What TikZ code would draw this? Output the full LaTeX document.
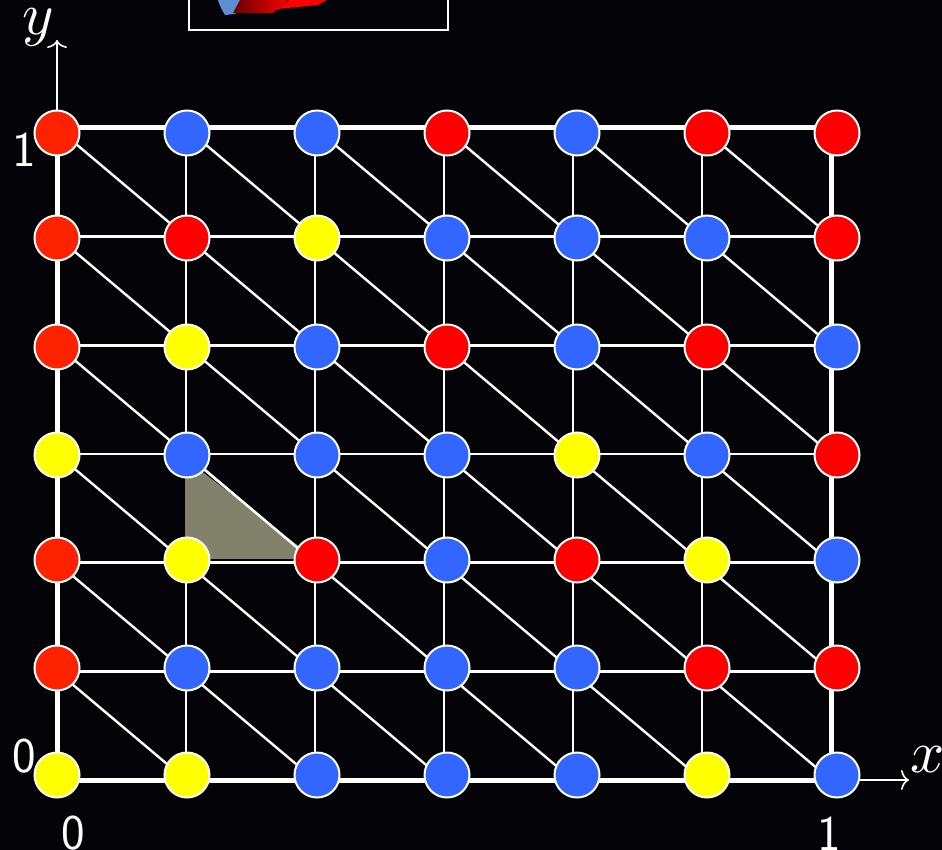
\documentclass[tikz,border=0pt]{standalone}
\usetikzlibrary{arrows.meta}
\definecolor{bg}{RGB}{3,3,8}
\definecolor{vorange}{RGB}{255,34,0}
\definecolor{vred}{RGB}{255,0,0}
\definecolor{vblue}{RGB}{51,102,255}
\definecolor{vyellow}{RGB}{255,255,0}
\definecolor{tri}{RGB}{130,130,108}
\definecolor{insetblue}{RGB}{92,142,212}
\definecolor{darkred}{RGB}{105,0,0}
\begin{document}
\begin{tikzpicture}[x=1pt,y=-1pt,
  vtx/.style={circle,draw=white,line width=2pt,minimum size=45pt,inner sep=0pt},
  vo/.style={fill=vorange}, vr/.style={fill=vred}, vb/.style={fill=vblue}, vy/.style={fill=vyellow},
  border/.style={white,line width=5pt},
  gline/.style={white,line width=2.4pt},
  axis/.style={white,line width=1.6pt,-{To[length=8pt,width=20pt]}},
  lab/.style={text=white,inner sep=0pt,font=\sffamily\fontsize{50}{60}\selectfont},
  mlab/.style={text=white,inner sep=0pt,scale=6}]
\fill[bg] (0,0) rectangle (942,850);
\useasboundingbox (0,0) rectangle (942,850);

% grid coordinates
\foreach \i in {0,...,6}{
  \foreach \j in {0,...,6}{
    \coordinate (g-\i-\j) at ({57+129*\i},{128+108.67*\j});
  }
}
% inner lines
\foreach \k in {1,...,5}{
  \draw[gline] (g-\k-0) -- (g-\k-6);
  \draw[gline] (g-0-\k) -- (g-6-\k);
}
% diagonals
\foreach \i [evaluate=\i as \ii using int(\i+1)] in {0,...,5}{
  \foreach \j [evaluate=\j as \jj using int(\j+1)] in {0,...,5}{
    \draw[gline] (g-\i-\j) -- (g-\ii-\jj);
  }
}
% border
\draw[border] (g-0-0) rectangle (g-6-6);

% highlighted triangle
\fill[tri] (184.5,458) -- (184.5,560) -- (318,561) -- cycle;
\draw[bg,line width=1.2pt] (184.5,458) -- (184.5,560) -- (318,560);
\draw[gline] (g-1-3) -- (g-2-4);

% axes
\coordinate (yend) at (57,40);
\coordinate (xend) at (909,780);
\draw[axis] (g-0-0) -- (yend);
\draw[axis] (g-6-6) -- (xend);

% inset picture (cut off at top)
\begin{scope}
  \clip (0,0) rectangle (942,850);
  \fill[insetblue] (217,-2) -- (221,8) -- (225,15) -- (235,14) -- (242,4) -- (246,-2) -- cycle;
  \shade[left color=darkred,right color=vred] (241,-2) -- (233,13) -- (273,13) -- (290,-2) -- cycle;
  \fill[vred] (277,9) -- (318,5) -- (330,-2) -- (292,-2) -- cycle;
  \draw[white,line width=2pt] (189,-20) rectangle (448,30);
\end{scope}

% vertices
\foreach \row [count=\j from 0] in {{o,b,b,r,b,r,r},{o,r,y,b,b,b,r},{o,y,b,r,b,r,b},{y,b,b,b,y,b,r},{o,y,r,b,r,y,b},{o,b,b,b,b,r,r},{y,y,b,b,b,y,b}}{
  \foreach \c [count=\i from 0] in \row {
    \pgfmathsetmacro{\px}{{57,187,317,447,577,707,837}[\i]}
    \pgfmathsetmacro{\py}{{133,238,347,455,560,668,775}[\j]}
    \node[vtx,v\c] (n-\i-\j) at (\px,\py) {};
  }
}

% labels
\node[lab] (l-y1) at (24,150) {1};
\node[lab] (l-y0) at (24,756) {0};
\node[lab] (l-x0) at (73,833) {0};
\node[lab] (l-x1) at (829,834) {1};
\node[mlab,anchor=base] (lab-y) at (38,35) {$y$};
\node[mlab,anchor=base] (lab-x) at (928,772) {$x$};
\end{tikzpicture}
\end{document}
